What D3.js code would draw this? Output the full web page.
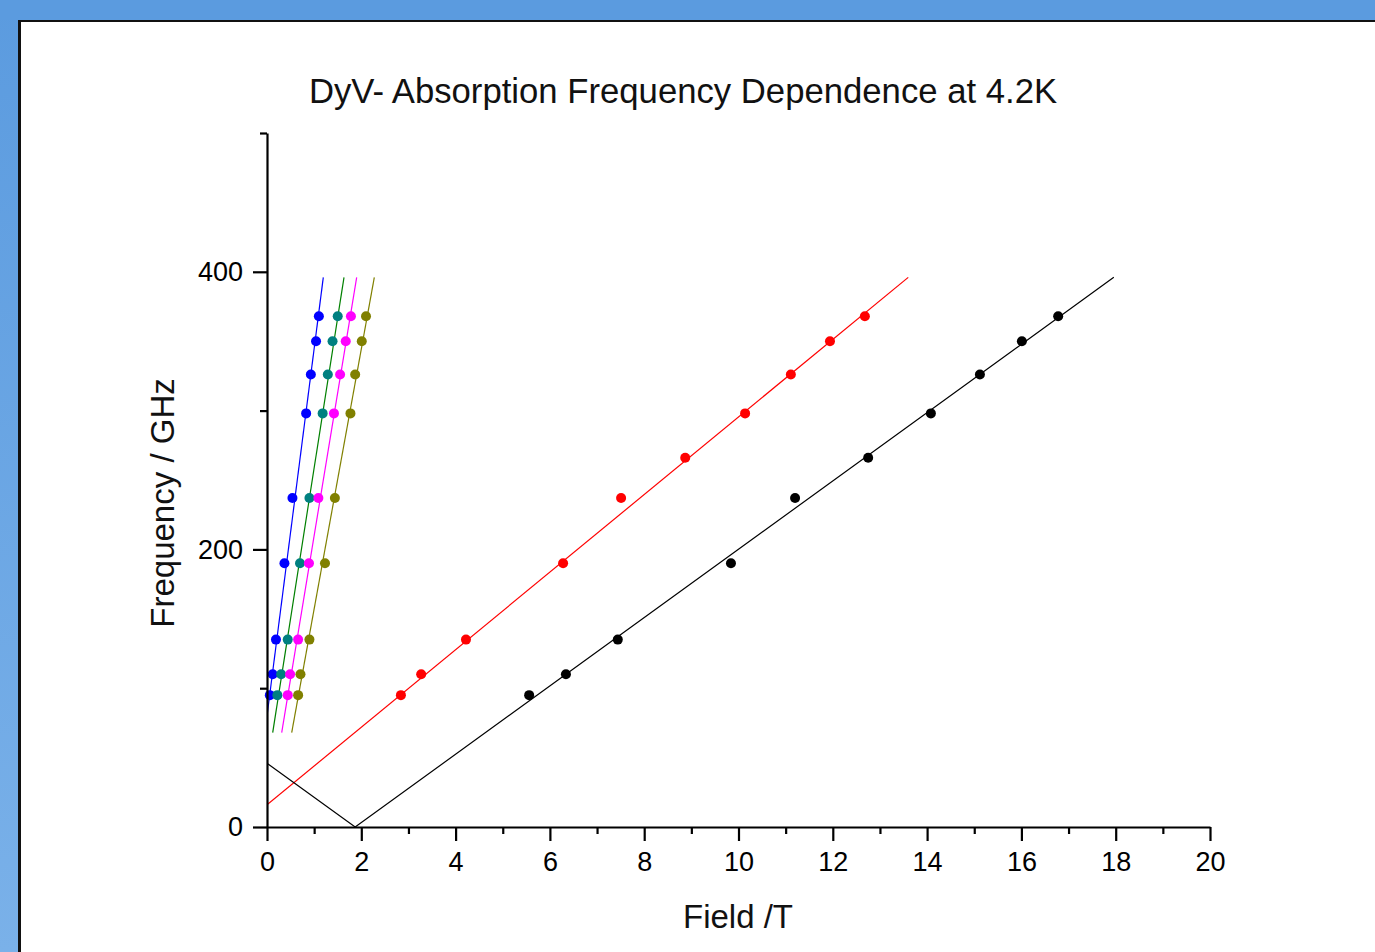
<!DOCTYPE html>
<html>
<head>
<meta charset="utf-8">
<script src="https://cdn.jsdelivr.net/npm/d3@7"></script>
<style>
  html, body { margin: 0; padding: 0; background: #ffffff; }
  svg { display: block; font-family: "Liberation Sans", Arial, sans-serif; }
</style>
</head>
<body>
<script>
// frequencies (GHz) used for the steep series and for red/black
const freqSteep = [95, 110, 135, 190, 237, 298, 326, 350, 368];
const freqWide = [95, 110, 135, 190, 237, 266, 298, 326, 350, 368];

// fields (T)
const blueField = [0.06, 0.12, 0.19, 0.37, 0.54, 0.83, 0.93, 1.04, 1.10];
const tealField = [0.22, 0.30, 0.44, 0.70, 0.90, 1.18, 1.29, 1.39, 1.50];
const magentaField = [0.44, 0.49, 0.66, 0.89, 1.09, 1.42, 1.55, 1.67, 1.78];
const oliveField = [0.66, 0.71, 0.90, 1.23, 1.44, 1.77, 1.87, 2.01, 2.10];
const redField = [2.84, 3.27, 4.22, 6.28, 7.51, 8.87, 10.14, 11.11, 11.94, 12.68];
const blackField = [5.56, 6.34, 7.44, 9.84, 11.20, 12.75, 14.08, 15.12, 16.01, 16.78];

// fit lines as [field, frequency] vertices
const blueFit = [[0, 80], [1.194, 396]];
const greenFit = [[0.121, 68], [1.633, 396]];
const magentaFit = [[0.312, 68], [1.902, 396]];
const oliveFit = [[0.524, 68], [2.276, 396]];
const redFit = [[0, 16], [13.6, 396]];
const blackFit = [[0, 46], [1.87, 0], [17.96, 396]];

const xMajor = [0, 2, 4, 6, 8, 10, 12, 14, 16, 18, 20];
const xMinor = [1, 3, 5, 7, 9, 11, 13, 15, 17, 19];
const yMajor = [0, 200, 400];
const yMinor = [100, 300, 500];

const width = 1375;
const height = 952;

const margin = { left: 267, right: 165, top: 133, bottom: 125 };

let svg = d3.select("body").append("svg")
    .attr("width", width)
    .attr("height", height);

// window frame
let defs = svg.append("defs");
let grad = defs.append("linearGradient")
    .attr("id", "side")
    .attr("x1", 0).attr("y1", 0).attr("x2", 0).attr("y2", 1);
grad.append("stop").attr("offset", "0%").attr("stop-color", "#5b9bdf");
grad.append("stop").attr("offset", "100%").attr("stop-color", "#7ab1e9");

svg.append("rect").attr("width", width).attr("height", height).attr("fill", "url(#side)");
svg.append("rect").attr("width", width).attr("height", 20).attr("fill", "#5b9bdf");
svg.append("rect").attr("x", 18).attr("y", 20).attr("width", width).attr("height", height).attr("fill", "#111");
svg.append("rect").attr("x", 21).attr("y", 22).attr("width", width).attr("height", height).attr("fill", "#ffffff");

let xScale = d3.scaleLinear()
    .domain([0, 20])
    .range([margin.left, width - margin.right]);

let yScale = d3.scaleLinear()
    .domain([0, 500])
    .range([height - margin.bottom, margin.top]);

defs.append("clipPath").attr("id", "plot")
    .append("rect")
    .attr("x", xScale(0))
    .attr("y", yScale(500))
    .attr("width", xScale(20) - xScale(0))
    .attr("height", yScale(0) - yScale(500));

// fit lines
let line = d3.line()
    .x(d => xScale(d[0]))
    .y(d => yScale(d[1]));

let fits = [
    { pts: blueFit, color: "#0000ff" },
    { pts: greenFit, color: "#008000" },
    { pts: magentaFit, color: "#ff00ff" },
    { pts: oliveFit, color: "#808000" },
    { pts: redFit, color: "#ff0000" },
    { pts: blackFit, color: "#000000" }
];

svg.append("g")
    .attr("clip-path", "url(#plot)")
    .selectAll("path")
    .data(fits)
    .enter()
    .append("path")
    .attr("d", d => line(d.pts))
    .attr("fill", "none")
    .attr("stroke", d => d.color)
    .attr("stroke-width", 1.2);

// points
let series = [
    { f: blueField, v: freqSteep, color: "#0000ff" },
    { f: tealField, v: freqSteep, color: "#008080" },
    { f: magentaField, v: freqSteep, color: "#ff00ff" },
    { f: oliveField, v: freqSteep, color: "#808000" },
    { f: redField, v: freqWide, color: "#ff0000" },
    { f: blackField, v: freqWide, color: "#000000" }
];

series.forEach(s => {
    svg.append("g")
        .selectAll("circle")
        .data(s.f.map((f, i) => [f, s.v[i]]))
        .enter()
        .append("circle")
        .attr("cx", d => xScale(d[0]))
        .attr("cy", d => yScale(d[1]))
        .attr("r", 5)
        .attr("fill", s.color);
});

// axes
let xAxis = svg.append("g")
    .attr("class", "axis")
    .attr("transform", "translate(0," + yScale(0) + ")")
    .call(d3.axisBottom(xScale).tickValues(xMajor).tickFormat(d3.format("d"))
        .tickSize(14).tickSizeOuter(0).tickPadding(11));

let xMinorAxis = svg.append("g")
    .attr("transform", "translate(0," + yScale(0) + ")")
    .call(d3.axisBottom(xScale).tickValues(xMinor).tickFormat("").tickSize(7));
xMinorAxis.select(".domain").remove();

let yAxis = svg.append("g")
    .attr("class", "axis")
    .attr("transform", "translate(" + xScale(0) + ",0)")
    .call(d3.axisLeft(yScale).tickValues(yMajor).tickFormat(d3.format("d"))
        .tickSize(14).tickSizeOuter(0).tickPadding(10));

let yMinorAxis = svg.append("g")
    .attr("transform", "translate(" + xScale(0) + ",0)")
    .call(d3.axisLeft(yScale).tickValues(yMinor).tickFormat("").tickSize(7));
yMinorAxis.select(".domain").remove();

svg.selectAll(".domain, .tick line")
    .attr("stroke", "#000")
    .attr("stroke-width", 2.2);

svg.selectAll(".axis text")
    .attr("fill", "#000")
    .style("font-family", "'Liberation Sans', Arial, sans-serif")
    .style("font-size", "27px");

// titles
svg.append("text")
    .attr("x", 683)
    .attr("y", 103)
    .attr("text-anchor", "middle")
    .style("font-size", "34.7px")
    .attr("fill", "#111")
    .text("DyV- Absorption Frequency Dependence at 4.2K");

svg.append("text")
    .attr("x", 738)
    .attr("y", 928)
    .attr("text-anchor", "middle")
    .style("font-size", "33px")
    .attr("fill", "#111")
    .text("Field /T");

svg.append("text")
    .attr("transform", "translate(174," + 503 + ") rotate(-90)")
    .attr("text-anchor", "middle")
    .style("font-size", "33px")
    .attr("fill", "#111")
    .text("Frequency / GHz");
</script>
</body>
</html>
